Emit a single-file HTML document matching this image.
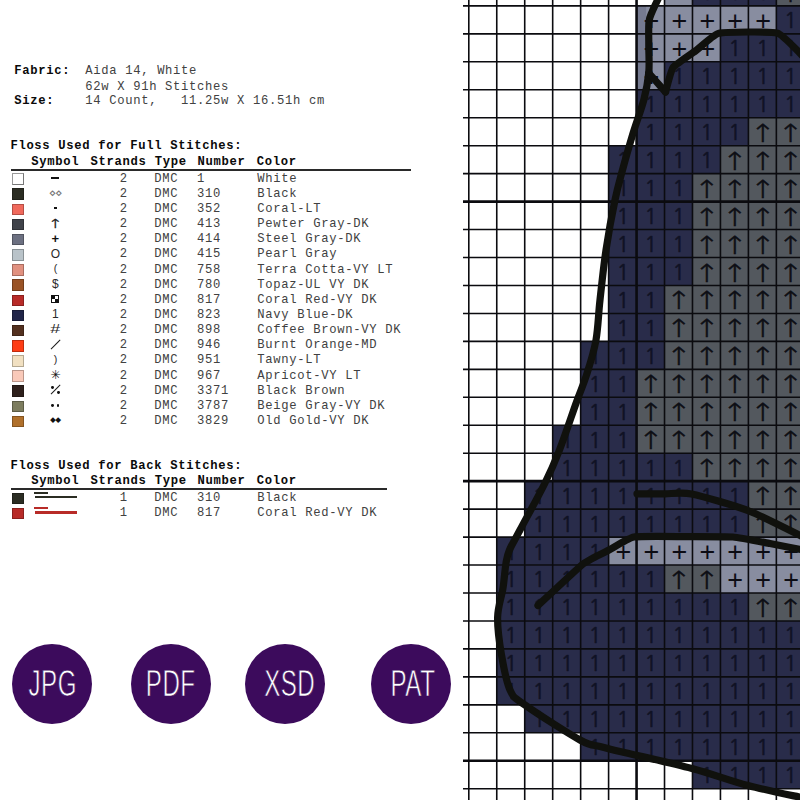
<!DOCTYPE html>
<html lang="en"><head><meta charset="utf-8"><title>Cross stitch pattern key</title><style>
html,body{margin:0;padding:0;background:#fff}
body{width:800px;height:800px;position:relative;overflow:hidden;font-family:"Liberation Mono",monospace}
.chart{position:absolute;left:0;top:0}
.chart text{text-anchor:middle}
.s1{font:21.5px "NanumGothic","Liberation Sans",sans-serif;fill:#101224;stroke:#101224;stroke-width:.55}
.s2{font:200 25px "DejaVu Sans",sans-serif;fill:#0d0e14;stroke:#0d0e14;stroke-width:.5}
.s3{font:27px "Liberation Sans",sans-serif;fill:#0c0c14}
.t{position:absolute;font-size:12.2px;line-height:15px;height:15px;white-space:pre;color:#414141;letter-spacing:.68px}
.t.b{font-weight:bold;color:#0a0a0a}
.rule{position:absolute;height:1.6px;background:#2a2a2a}
.sw{position:absolute;width:11.8px;height:11.6px;box-sizing:border-box;border:0.5px solid rgba(0,0,0,.25)}
.sw.w{border:1px solid #9a9a9a;border-right-color:#777;border-bottom-color:#777}
.sym{position:absolute;left:35.4px;width:40px;height:20px;text-align:center;font:12px/20px "Liberation Sans",sans-serif;color:#2a2a2a}
.sym span{display:inline-block;line-height:20px}
.sym i{position:absolute;display:block}
.bar{left:16.1px;top:9px;width:7.6px;height:2px;background:#111}
.sq{left:18.7px;top:8.8px;width:2.6px;height:2.4px;background:#111}
.ck{left:15.9px;top:6.1px;width:8.2px;height:7.8px;box-sizing:border-box;border:1px solid #111;background:conic-gradient(#fff 0 25%,#111 0 50%,#fff 0 75%,#111 0)}
.dg{left:19.5px;top:3.4px;width:1.1px;height:13.2px;background:#1a1a1a;transform:rotate(45deg)}
.d1,.d2,.d3,.d4{width:2.8px;height:2.8px;border-radius:50%;background:#111}
.d1{left:15.8px;top:6.3px}.d2{left:22px;top:10.9px}
.d3{left:15.8px;top:8.6px}.d4{left:21.3px;top:8.6px}
.inf span{font:12px/20px "DejaVu Sans",sans-serif;color:#777;letter-spacing:-1.2px;margin-right:-1.2px;position:relative;left:-1px}
.arr span{font:200 12.5px/20px "DejaVu Sans",sans-serif;color:#222;transform:scaleX(1.38);position:relative;top:.8px;-webkit-text-stroke:.35px #222}
.lp span,.rp span{font-size:10.6px;position:relative;top:-.9px}
.pls span{font:bold 13px/20px "Liberation Sans",sans-serif;color:#111}
.hash span{transform:scaleX(1.5)}
.ast span{font:12.3px/20px "DejaVu Sans",sans-serif;color:#111}
.dia span{font:7.6px/20px "DejaVu Sans",sans-serif;color:#111;letter-spacing:-.6px;margin-right:-.6px;position:relative;top:-2.2px;left:-.4px}
.bs1{position:absolute;width:14px;height:1.4px}
.bs2{position:absolute;width:42px;height:2.4px}
.badge{position:absolute;width:80px;height:80px;border-radius:50%;background:#3c0b5c;color:#fff;text-align:center}
.badge span{display:inline-block;font:36.5px/80px "Liberation Sans",sans-serif;transform:scaleX(.66);transform-origin:50% 50%;letter-spacing:.8px;position:relative;top:.5px;-webkit-text-stroke:.75px #3c0b5c}
</style></head><body>
<svg class="chart" width="800" height="800" viewBox="0 0 800 800" role="img" aria-label="Cross stitch chart">
<rect x="664.52" y="-22.06" width="27.96" height="27.957" fill="#888da0"/>
<rect x="692.48" y="-22.06" width="27.96" height="27.957" fill="#292c4a"/>
<rect x="720.44" y="-22.06" width="27.96" height="27.957" fill="#292c4a"/>
<rect x="748.40" y="-22.06" width="27.96" height="27.957" fill="#292c4a"/>
<rect x="776.36" y="-22.06" width="27.96" height="27.957" fill="#53585e"/>
<rect x="636.56" y="5.90" width="27.96" height="27.957" fill="#888da0"/>
<rect x="664.52" y="5.90" width="27.96" height="27.957" fill="#888da0"/>
<rect x="692.48" y="5.90" width="27.96" height="27.957" fill="#888da0"/>
<rect x="720.44" y="5.90" width="27.96" height="27.957" fill="#888da0"/>
<rect x="748.40" y="5.90" width="27.96" height="27.957" fill="#888da0"/>
<rect x="776.36" y="5.90" width="27.96" height="27.957" fill="#292c4a"/>
<rect x="636.56" y="33.86" width="27.96" height="27.957" fill="#888da0"/>
<rect x="664.52" y="33.86" width="27.96" height="27.957" fill="#888da0"/>
<rect x="692.48" y="33.86" width="27.96" height="27.957" fill="#888da0"/>
<rect x="720.44" y="33.86" width="27.96" height="27.957" fill="#292c4a"/>
<rect x="748.40" y="33.86" width="27.96" height="27.957" fill="#292c4a"/>
<rect x="776.36" y="33.86" width="27.96" height="27.957" fill="#292c4a"/>
<rect x="636.56" y="61.81" width="27.96" height="27.957" fill="#888da0"/>
<rect x="664.52" y="61.81" width="27.96" height="27.957" fill="#292c4a"/>
<rect x="692.48" y="61.81" width="27.96" height="27.957" fill="#292c4a"/>
<rect x="720.44" y="61.81" width="27.96" height="27.957" fill="#292c4a"/>
<rect x="748.40" y="61.81" width="27.96" height="27.957" fill="#292c4a"/>
<rect x="776.36" y="61.81" width="27.96" height="27.957" fill="#292c4a"/>
<rect x="636.56" y="89.77" width="27.96" height="27.957" fill="#292c4a"/>
<rect x="664.52" y="89.77" width="27.96" height="27.957" fill="#292c4a"/>
<rect x="692.48" y="89.77" width="27.96" height="27.957" fill="#292c4a"/>
<rect x="720.44" y="89.77" width="27.96" height="27.957" fill="#292c4a"/>
<rect x="748.40" y="89.77" width="27.96" height="27.957" fill="#292c4a"/>
<rect x="776.36" y="89.77" width="27.96" height="27.957" fill="#292c4a"/>
<rect x="636.56" y="117.73" width="27.96" height="27.957" fill="#292c4a"/>
<rect x="664.52" y="117.73" width="27.96" height="27.957" fill="#292c4a"/>
<rect x="692.48" y="117.73" width="27.96" height="27.957" fill="#292c4a"/>
<rect x="720.44" y="117.73" width="27.96" height="27.957" fill="#292c4a"/>
<rect x="748.40" y="117.73" width="27.96" height="27.957" fill="#53585e"/>
<rect x="776.36" y="117.73" width="27.96" height="27.957" fill="#53585e"/>
<rect x="608.60" y="145.69" width="27.96" height="27.957" fill="#292c4a"/>
<rect x="636.56" y="145.69" width="27.96" height="27.957" fill="#292c4a"/>
<rect x="664.52" y="145.69" width="27.96" height="27.957" fill="#292c4a"/>
<rect x="692.48" y="145.69" width="27.96" height="27.957" fill="#292c4a"/>
<rect x="720.44" y="145.69" width="27.96" height="27.957" fill="#53585e"/>
<rect x="748.40" y="145.69" width="27.96" height="27.957" fill="#53585e"/>
<rect x="776.36" y="145.69" width="27.96" height="27.957" fill="#53585e"/>
<rect x="608.60" y="173.64" width="27.96" height="27.957" fill="#292c4a"/>
<rect x="636.56" y="173.64" width="27.96" height="27.957" fill="#292c4a"/>
<rect x="664.52" y="173.64" width="27.96" height="27.957" fill="#292c4a"/>
<rect x="692.48" y="173.64" width="27.96" height="27.957" fill="#53585e"/>
<rect x="720.44" y="173.64" width="27.96" height="27.957" fill="#53585e"/>
<rect x="748.40" y="173.64" width="27.96" height="27.957" fill="#53585e"/>
<rect x="776.36" y="173.64" width="27.96" height="27.957" fill="#53585e"/>
<rect x="608.60" y="201.60" width="27.96" height="27.957" fill="#292c4a"/>
<rect x="636.56" y="201.60" width="27.96" height="27.957" fill="#292c4a"/>
<rect x="664.52" y="201.60" width="27.96" height="27.957" fill="#292c4a"/>
<rect x="692.48" y="201.60" width="27.96" height="27.957" fill="#53585e"/>
<rect x="720.44" y="201.60" width="27.96" height="27.957" fill="#53585e"/>
<rect x="748.40" y="201.60" width="27.96" height="27.957" fill="#53585e"/>
<rect x="776.36" y="201.60" width="27.96" height="27.957" fill="#53585e"/>
<rect x="608.60" y="229.56" width="27.96" height="27.957" fill="#292c4a"/>
<rect x="636.56" y="229.56" width="27.96" height="27.957" fill="#292c4a"/>
<rect x="664.52" y="229.56" width="27.96" height="27.957" fill="#292c4a"/>
<rect x="692.48" y="229.56" width="27.96" height="27.957" fill="#53585e"/>
<rect x="720.44" y="229.56" width="27.96" height="27.957" fill="#53585e"/>
<rect x="748.40" y="229.56" width="27.96" height="27.957" fill="#53585e"/>
<rect x="776.36" y="229.56" width="27.96" height="27.957" fill="#53585e"/>
<rect x="608.60" y="257.51" width="27.96" height="27.957" fill="#292c4a"/>
<rect x="636.56" y="257.51" width="27.96" height="27.957" fill="#292c4a"/>
<rect x="664.52" y="257.51" width="27.96" height="27.957" fill="#292c4a"/>
<rect x="692.48" y="257.51" width="27.96" height="27.957" fill="#53585e"/>
<rect x="720.44" y="257.51" width="27.96" height="27.957" fill="#53585e"/>
<rect x="748.40" y="257.51" width="27.96" height="27.957" fill="#53585e"/>
<rect x="776.36" y="257.51" width="27.96" height="27.957" fill="#53585e"/>
<rect x="608.60" y="285.47" width="27.96" height="27.957" fill="#292c4a"/>
<rect x="636.56" y="285.47" width="27.96" height="27.957" fill="#292c4a"/>
<rect x="664.52" y="285.47" width="27.96" height="27.957" fill="#53585e"/>
<rect x="692.48" y="285.47" width="27.96" height="27.957" fill="#53585e"/>
<rect x="720.44" y="285.47" width="27.96" height="27.957" fill="#53585e"/>
<rect x="748.40" y="285.47" width="27.96" height="27.957" fill="#53585e"/>
<rect x="776.36" y="285.47" width="27.96" height="27.957" fill="#53585e"/>
<rect x="608.60" y="313.43" width="27.96" height="27.957" fill="#292c4a"/>
<rect x="636.56" y="313.43" width="27.96" height="27.957" fill="#292c4a"/>
<rect x="664.52" y="313.43" width="27.96" height="27.957" fill="#53585e"/>
<rect x="692.48" y="313.43" width="27.96" height="27.957" fill="#53585e"/>
<rect x="720.44" y="313.43" width="27.96" height="27.957" fill="#53585e"/>
<rect x="748.40" y="313.43" width="27.96" height="27.957" fill="#53585e"/>
<rect x="776.36" y="313.43" width="27.96" height="27.957" fill="#53585e"/>
<rect x="580.64" y="341.38" width="27.96" height="27.957" fill="#292c4a"/>
<rect x="608.60" y="341.38" width="27.96" height="27.957" fill="#292c4a"/>
<rect x="636.56" y="341.38" width="27.96" height="27.957" fill="#292c4a"/>
<rect x="664.52" y="341.38" width="27.96" height="27.957" fill="#53585e"/>
<rect x="692.48" y="341.38" width="27.96" height="27.957" fill="#53585e"/>
<rect x="720.44" y="341.38" width="27.96" height="27.957" fill="#53585e"/>
<rect x="748.40" y="341.38" width="27.96" height="27.957" fill="#53585e"/>
<rect x="776.36" y="341.38" width="27.96" height="27.957" fill="#53585e"/>
<rect x="580.64" y="369.34" width="27.96" height="27.957" fill="#292c4a"/>
<rect x="608.60" y="369.34" width="27.96" height="27.957" fill="#292c4a"/>
<rect x="636.56" y="369.34" width="27.96" height="27.957" fill="#53585e"/>
<rect x="664.52" y="369.34" width="27.96" height="27.957" fill="#53585e"/>
<rect x="692.48" y="369.34" width="27.96" height="27.957" fill="#53585e"/>
<rect x="720.44" y="369.34" width="27.96" height="27.957" fill="#53585e"/>
<rect x="748.40" y="369.34" width="27.96" height="27.957" fill="#53585e"/>
<rect x="776.36" y="369.34" width="27.96" height="27.957" fill="#53585e"/>
<rect x="580.64" y="397.30" width="27.96" height="27.957" fill="#292c4a"/>
<rect x="608.60" y="397.30" width="27.96" height="27.957" fill="#292c4a"/>
<rect x="636.56" y="397.30" width="27.96" height="27.957" fill="#53585e"/>
<rect x="664.52" y="397.30" width="27.96" height="27.957" fill="#53585e"/>
<rect x="692.48" y="397.30" width="27.96" height="27.957" fill="#53585e"/>
<rect x="720.44" y="397.30" width="27.96" height="27.957" fill="#53585e"/>
<rect x="748.40" y="397.30" width="27.96" height="27.957" fill="#53585e"/>
<rect x="776.36" y="397.30" width="27.96" height="27.957" fill="#53585e"/>
<rect x="552.68" y="425.25" width="27.96" height="27.957" fill="#292c4a"/>
<rect x="580.64" y="425.25" width="27.96" height="27.957" fill="#292c4a"/>
<rect x="608.60" y="425.25" width="27.96" height="27.957" fill="#292c4a"/>
<rect x="636.56" y="425.25" width="27.96" height="27.957" fill="#53585e"/>
<rect x="664.52" y="425.25" width="27.96" height="27.957" fill="#53585e"/>
<rect x="692.48" y="425.25" width="27.96" height="27.957" fill="#53585e"/>
<rect x="720.44" y="425.25" width="27.96" height="27.957" fill="#53585e"/>
<rect x="748.40" y="425.25" width="27.96" height="27.957" fill="#53585e"/>
<rect x="776.36" y="425.25" width="27.96" height="27.957" fill="#53585e"/>
<rect x="552.68" y="453.21" width="27.96" height="27.957" fill="#292c4a"/>
<rect x="580.64" y="453.21" width="27.96" height="27.957" fill="#292c4a"/>
<rect x="608.60" y="453.21" width="27.96" height="27.957" fill="#292c4a"/>
<rect x="636.56" y="453.21" width="27.96" height="27.957" fill="#292c4a"/>
<rect x="664.52" y="453.21" width="27.96" height="27.957" fill="#292c4a"/>
<rect x="692.48" y="453.21" width="27.96" height="27.957" fill="#53585e"/>
<rect x="720.44" y="453.21" width="27.96" height="27.957" fill="#53585e"/>
<rect x="748.40" y="453.21" width="27.96" height="27.957" fill="#53585e"/>
<rect x="776.36" y="453.21" width="27.96" height="27.957" fill="#53585e"/>
<rect x="524.72" y="481.17" width="27.96" height="27.957" fill="#292c4a"/>
<rect x="552.68" y="481.17" width="27.96" height="27.957" fill="#292c4a"/>
<rect x="580.64" y="481.17" width="27.96" height="27.957" fill="#292c4a"/>
<rect x="608.60" y="481.17" width="27.96" height="27.957" fill="#292c4a"/>
<rect x="636.56" y="481.17" width="27.96" height="27.957" fill="#292c4a"/>
<rect x="664.52" y="481.17" width="27.96" height="27.957" fill="#292c4a"/>
<rect x="692.48" y="481.17" width="27.96" height="27.957" fill="#292c4a"/>
<rect x="720.44" y="481.17" width="27.96" height="27.957" fill="#292c4a"/>
<rect x="748.40" y="481.17" width="27.96" height="27.957" fill="#53585e"/>
<rect x="776.36" y="481.17" width="27.96" height="27.957" fill="#53585e"/>
<rect x="524.72" y="509.13" width="27.96" height="27.957" fill="#292c4a"/>
<rect x="552.68" y="509.13" width="27.96" height="27.957" fill="#292c4a"/>
<rect x="580.64" y="509.13" width="27.96" height="27.957" fill="#292c4a"/>
<rect x="608.60" y="509.13" width="27.96" height="27.957" fill="#292c4a"/>
<rect x="636.56" y="509.13" width="27.96" height="27.957" fill="#292c4a"/>
<rect x="664.52" y="509.13" width="27.96" height="27.957" fill="#292c4a"/>
<rect x="692.48" y="509.13" width="27.96" height="27.957" fill="#292c4a"/>
<rect x="720.44" y="509.13" width="27.96" height="27.957" fill="#292c4a"/>
<rect x="748.40" y="509.13" width="27.96" height="27.957" fill="#53585e"/>
<rect x="776.36" y="509.13" width="27.96" height="27.957" fill="#53585e"/>
<rect x="496.76" y="537.08" width="27.96" height="27.957" fill="#292c4a"/>
<rect x="524.72" y="537.08" width="27.96" height="27.957" fill="#292c4a"/>
<rect x="552.68" y="537.08" width="27.96" height="27.957" fill="#292c4a"/>
<rect x="580.64" y="537.08" width="27.96" height="27.957" fill="#292c4a"/>
<rect x="608.60" y="537.08" width="27.96" height="27.957" fill="#888da0"/>
<rect x="636.56" y="537.08" width="27.96" height="27.957" fill="#888da0"/>
<rect x="664.52" y="537.08" width="27.96" height="27.957" fill="#888da0"/>
<rect x="692.48" y="537.08" width="27.96" height="27.957" fill="#888da0"/>
<rect x="720.44" y="537.08" width="27.96" height="27.957" fill="#888da0"/>
<rect x="748.40" y="537.08" width="27.96" height="27.957" fill="#888da0"/>
<rect x="776.36" y="537.08" width="27.96" height="27.957" fill="#888da0"/>
<rect x="496.76" y="565.04" width="27.96" height="27.957" fill="#292c4a"/>
<rect x="524.72" y="565.04" width="27.96" height="27.957" fill="#292c4a"/>
<rect x="552.68" y="565.04" width="27.96" height="27.957" fill="#292c4a"/>
<rect x="580.64" y="565.04" width="27.96" height="27.957" fill="#292c4a"/>
<rect x="608.60" y="565.04" width="27.96" height="27.957" fill="#292c4a"/>
<rect x="636.56" y="565.04" width="27.96" height="27.957" fill="#292c4a"/>
<rect x="664.52" y="565.04" width="27.96" height="27.957" fill="#53585e"/>
<rect x="692.48" y="565.04" width="27.96" height="27.957" fill="#53585e"/>
<rect x="720.44" y="565.04" width="27.96" height="27.957" fill="#888da0"/>
<rect x="748.40" y="565.04" width="27.96" height="27.957" fill="#888da0"/>
<rect x="776.36" y="565.04" width="27.96" height="27.957" fill="#888da0"/>
<rect x="496.76" y="593.00" width="27.96" height="27.957" fill="#292c4a"/>
<rect x="524.72" y="593.00" width="27.96" height="27.957" fill="#292c4a"/>
<rect x="552.68" y="593.00" width="27.96" height="27.957" fill="#292c4a"/>
<rect x="580.64" y="593.00" width="27.96" height="27.957" fill="#292c4a"/>
<rect x="608.60" y="593.00" width="27.96" height="27.957" fill="#292c4a"/>
<rect x="636.56" y="593.00" width="27.96" height="27.957" fill="#292c4a"/>
<rect x="664.52" y="593.00" width="27.96" height="27.957" fill="#292c4a"/>
<rect x="692.48" y="593.00" width="27.96" height="27.957" fill="#292c4a"/>
<rect x="720.44" y="593.00" width="27.96" height="27.957" fill="#292c4a"/>
<rect x="748.40" y="593.00" width="27.96" height="27.957" fill="#53585e"/>
<rect x="776.36" y="593.00" width="27.96" height="27.957" fill="#53585e"/>
<rect x="496.76" y="620.95" width="27.96" height="27.957" fill="#292c4a"/>
<rect x="524.72" y="620.95" width="27.96" height="27.957" fill="#292c4a"/>
<rect x="552.68" y="620.95" width="27.96" height="27.957" fill="#292c4a"/>
<rect x="580.64" y="620.95" width="27.96" height="27.957" fill="#292c4a"/>
<rect x="608.60" y="620.95" width="27.96" height="27.957" fill="#292c4a"/>
<rect x="636.56" y="620.95" width="27.96" height="27.957" fill="#292c4a"/>
<rect x="664.52" y="620.95" width="27.96" height="27.957" fill="#292c4a"/>
<rect x="692.48" y="620.95" width="27.96" height="27.957" fill="#292c4a"/>
<rect x="720.44" y="620.95" width="27.96" height="27.957" fill="#292c4a"/>
<rect x="748.40" y="620.95" width="27.96" height="27.957" fill="#292c4a"/>
<rect x="776.36" y="620.95" width="27.96" height="27.957" fill="#292c4a"/>
<rect x="496.76" y="648.91" width="27.96" height="27.957" fill="#292c4a"/>
<rect x="524.72" y="648.91" width="27.96" height="27.957" fill="#292c4a"/>
<rect x="552.68" y="648.91" width="27.96" height="27.957" fill="#292c4a"/>
<rect x="580.64" y="648.91" width="27.96" height="27.957" fill="#292c4a"/>
<rect x="608.60" y="648.91" width="27.96" height="27.957" fill="#292c4a"/>
<rect x="636.56" y="648.91" width="27.96" height="27.957" fill="#292c4a"/>
<rect x="664.52" y="648.91" width="27.96" height="27.957" fill="#292c4a"/>
<rect x="692.48" y="648.91" width="27.96" height="27.957" fill="#292c4a"/>
<rect x="720.44" y="648.91" width="27.96" height="27.957" fill="#292c4a"/>
<rect x="748.40" y="648.91" width="27.96" height="27.957" fill="#292c4a"/>
<rect x="776.36" y="648.91" width="27.96" height="27.957" fill="#292c4a"/>
<rect x="496.76" y="676.87" width="27.96" height="27.957" fill="#292c4a"/>
<rect x="524.72" y="676.87" width="27.96" height="27.957" fill="#292c4a"/>
<rect x="552.68" y="676.87" width="27.96" height="27.957" fill="#292c4a"/>
<rect x="580.64" y="676.87" width="27.96" height="27.957" fill="#292c4a"/>
<rect x="608.60" y="676.87" width="27.96" height="27.957" fill="#292c4a"/>
<rect x="636.56" y="676.87" width="27.96" height="27.957" fill="#292c4a"/>
<rect x="664.52" y="676.87" width="27.96" height="27.957" fill="#292c4a"/>
<rect x="692.48" y="676.87" width="27.96" height="27.957" fill="#292c4a"/>
<rect x="720.44" y="676.87" width="27.96" height="27.957" fill="#292c4a"/>
<rect x="748.40" y="676.87" width="27.96" height="27.957" fill="#292c4a"/>
<rect x="776.36" y="676.87" width="27.96" height="27.957" fill="#292c4a"/>
<rect x="524.72" y="704.83" width="27.96" height="27.957" fill="#292c4a"/>
<rect x="552.68" y="704.83" width="27.96" height="27.957" fill="#292c4a"/>
<rect x="580.64" y="704.83" width="27.96" height="27.957" fill="#292c4a"/>
<rect x="608.60" y="704.83" width="27.96" height="27.957" fill="#292c4a"/>
<rect x="636.56" y="704.83" width="27.96" height="27.957" fill="#292c4a"/>
<rect x="664.52" y="704.83" width="27.96" height="27.957" fill="#292c4a"/>
<rect x="692.48" y="704.83" width="27.96" height="27.957" fill="#292c4a"/>
<rect x="720.44" y="704.83" width="27.96" height="27.957" fill="#292c4a"/>
<rect x="748.40" y="704.83" width="27.96" height="27.957" fill="#292c4a"/>
<rect x="776.36" y="704.83" width="27.96" height="27.957" fill="#292c4a"/>
<rect x="580.64" y="732.78" width="27.96" height="27.957" fill="#292c4a"/>
<rect x="608.60" y="732.78" width="27.96" height="27.957" fill="#292c4a"/>
<rect x="636.56" y="732.78" width="27.96" height="27.957" fill="#292c4a"/>
<rect x="664.52" y="732.78" width="27.96" height="27.957" fill="#292c4a"/>
<rect x="692.48" y="732.78" width="27.96" height="27.957" fill="#292c4a"/>
<rect x="720.44" y="732.78" width="27.96" height="27.957" fill="#292c4a"/>
<rect x="748.40" y="732.78" width="27.96" height="27.957" fill="#292c4a"/>
<rect x="776.36" y="732.78" width="27.96" height="27.957" fill="#292c4a"/>
<rect x="692.48" y="760.74" width="27.96" height="27.957" fill="#292c4a"/>
<rect x="720.44" y="760.74" width="27.96" height="27.957" fill="#292c4a"/>
<rect x="748.40" y="760.74" width="27.96" height="27.957" fill="#292c4a"/>
<rect x="776.36" y="760.74" width="27.96" height="27.957" fill="#292c4a"/>
<rect x="636.56" y="5.90" width="9.6" height="83.87" fill="#757a90"/>
<g stroke="#0b0b0f"><line x1="468.80" y1="0" x2="468.80" y2="800" stroke-width="1.6"/><line x1="496.76" y1="0" x2="496.76" y2="800" stroke-width="1.6"/><line x1="524.72" y1="0" x2="524.72" y2="800" stroke-width="1.6"/><line x1="552.68" y1="0" x2="552.68" y2="800" stroke-width="1.6"/><line x1="580.64" y1="0" x2="580.64" y2="800" stroke-width="1.6"/><line x1="608.60" y1="0" x2="608.60" y2="800" stroke-width="1.6"/><line x1="636.56" y1="0" x2="636.56" y2="800" stroke-width="2.6"/><line x1="664.52" y1="0" x2="664.52" y2="800" stroke-width="1.6"/><line x1="692.48" y1="0" x2="692.48" y2="800" stroke-width="1.6"/><line x1="720.44" y1="0" x2="720.44" y2="800" stroke-width="1.6"/><line x1="748.40" y1="0" x2="748.40" y2="800" stroke-width="1.6"/><line x1="776.36" y1="0" x2="776.36" y2="800" stroke-width="1.6"/><line x1="463" y1="5.90" x2="800" y2="5.90" stroke-width="1.6"/><line x1="463" y1="33.86" x2="800" y2="33.86" stroke-width="1.6"/><line x1="463" y1="61.81" x2="800" y2="61.81" stroke-width="1.6"/><line x1="463" y1="89.77" x2="800" y2="89.77" stroke-width="1.6"/><line x1="463" y1="117.73" x2="800" y2="117.73" stroke-width="1.6"/><line x1="463" y1="145.69" x2="800" y2="145.69" stroke-width="1.6"/><line x1="463" y1="173.64" x2="800" y2="173.64" stroke-width="1.6"/><line x1="463" y1="201.60" x2="800" y2="201.60" stroke-width="2.6"/><line x1="463" y1="229.56" x2="800" y2="229.56" stroke-width="1.6"/><line x1="463" y1="257.51" x2="800" y2="257.51" stroke-width="1.6"/><line x1="463" y1="285.47" x2="800" y2="285.47" stroke-width="1.6"/><line x1="463" y1="313.43" x2="800" y2="313.43" stroke-width="1.6"/><line x1="463" y1="341.38" x2="800" y2="341.38" stroke-width="1.6"/><line x1="463" y1="369.34" x2="800" y2="369.34" stroke-width="1.6"/><line x1="463" y1="397.30" x2="800" y2="397.30" stroke-width="1.6"/><line x1="463" y1="425.25" x2="800" y2="425.25" stroke-width="1.6"/><line x1="463" y1="453.21" x2="800" y2="453.21" stroke-width="1.6"/><line x1="463" y1="481.17" x2="800" y2="481.17" stroke-width="2.6"/><line x1="463" y1="509.13" x2="800" y2="509.13" stroke-width="1.6"/><line x1="463" y1="537.08" x2="800" y2="537.08" stroke-width="1.6"/><line x1="463" y1="565.04" x2="800" y2="565.04" stroke-width="1.6"/><line x1="463" y1="593.00" x2="800" y2="593.00" stroke-width="1.6"/><line x1="463" y1="620.95" x2="800" y2="620.95" stroke-width="1.6"/><line x1="463" y1="648.91" x2="800" y2="648.91" stroke-width="1.6"/><line x1="463" y1="676.87" x2="800" y2="676.87" stroke-width="1.6"/><line x1="463" y1="704.83" x2="800" y2="704.83" stroke-width="1.6"/><line x1="463" y1="732.78" x2="800" y2="732.78" stroke-width="1.6"/><line x1="463" y1="760.74" x2="800" y2="760.74" stroke-width="2.6"/><line x1="463" y1="788.70" x2="800" y2="788.70" stroke-width="1.6"/></g>
<g class="s1"><text x="706.8" y="0.3">1</text><text x="734.7" y="0.3">1</text><text x="762.7" y="0.3">1</text><text x="790.6" y="28.3">1</text><text x="734.7" y="56.2">1</text><text x="762.7" y="56.2">1</text><text x="790.6" y="56.2">1</text><text x="678.8" y="84.2">1</text><text x="706.8" y="84.2">1</text><text x="734.7" y="84.2">1</text><text x="762.7" y="84.2">1</text><text x="790.6" y="84.2">1</text><text x="650.8" y="112.1">1</text><text x="678.8" y="112.1">1</text><text x="706.8" y="112.1">1</text><text x="734.7" y="112.1">1</text><text x="762.7" y="112.1">1</text><text x="790.6" y="112.1">1</text><text x="650.8" y="140.1">1</text><text x="678.8" y="140.1">1</text><text x="706.8" y="140.1">1</text><text x="734.7" y="140.1">1</text><text x="622.9" y="168.1">1</text><text x="650.8" y="168.1">1</text><text x="678.8" y="168.1">1</text><text x="706.8" y="168.1">1</text><text x="622.9" y="196.0">1</text><text x="650.8" y="196.0">1</text><text x="678.8" y="196.0">1</text><text x="622.9" y="224.0">1</text><text x="650.8" y="224.0">1</text><text x="678.8" y="224.0">1</text><text x="622.9" y="251.9">1</text><text x="650.8" y="251.9">1</text><text x="678.8" y="251.9">1</text><text x="622.9" y="279.9">1</text><text x="650.8" y="279.9">1</text><text x="678.8" y="279.9">1</text><text x="622.9" y="307.8">1</text><text x="650.8" y="307.8">1</text><text x="622.9" y="335.8">1</text><text x="650.8" y="335.8">1</text><text x="594.9" y="363.8">1</text><text x="622.9" y="363.8">1</text><text x="650.8" y="363.8">1</text><text x="594.9" y="391.7">1</text><text x="622.9" y="391.7">1</text><text x="594.9" y="419.7">1</text><text x="622.9" y="419.7">1</text><text x="567.0" y="447.6">1</text><text x="594.9" y="447.6">1</text><text x="622.9" y="447.6">1</text><text x="567.0" y="475.6">1</text><text x="594.9" y="475.6">1</text><text x="622.9" y="475.6">1</text><text x="650.8" y="475.6">1</text><text x="678.8" y="475.6">1</text><text x="539.0" y="503.5">1</text><text x="567.0" y="503.5">1</text><text x="594.9" y="503.5">1</text><text x="622.9" y="503.5">1</text><text x="650.8" y="503.5">1</text><text x="678.8" y="503.5">1</text><text x="706.8" y="503.5">1</text><text x="734.7" y="503.5">1</text><text x="539.0" y="531.5">1</text><text x="567.0" y="531.5">1</text><text x="594.9" y="531.5">1</text><text x="622.9" y="531.5">1</text><text x="650.8" y="531.5">1</text><text x="678.8" y="531.5">1</text><text x="706.8" y="531.5">1</text><text x="734.7" y="531.5">1</text><text x="511.0" y="559.5">1</text><text x="539.0" y="559.5">1</text><text x="567.0" y="559.5">1</text><text x="594.9" y="559.5">1</text><text x="511.0" y="587.4">1</text><text x="539.0" y="587.4">1</text><text x="567.0" y="587.4">1</text><text x="594.9" y="587.4">1</text><text x="622.9" y="587.4">1</text><text x="650.8" y="587.4">1</text><text x="511.0" y="615.4">1</text><text x="539.0" y="615.4">1</text><text x="567.0" y="615.4">1</text><text x="594.9" y="615.4">1</text><text x="622.9" y="615.4">1</text><text x="650.8" y="615.4">1</text><text x="678.8" y="615.4">1</text><text x="706.8" y="615.4">1</text><text x="734.7" y="615.4">1</text><text x="511.0" y="643.3">1</text><text x="539.0" y="643.3">1</text><text x="567.0" y="643.3">1</text><text x="594.9" y="643.3">1</text><text x="622.9" y="643.3">1</text><text x="650.8" y="643.3">1</text><text x="678.8" y="643.3">1</text><text x="706.8" y="643.3">1</text><text x="734.7" y="643.3">1</text><text x="762.7" y="643.3">1</text><text x="790.6" y="643.3">1</text><text x="511.0" y="671.3">1</text><text x="539.0" y="671.3">1</text><text x="567.0" y="671.3">1</text><text x="594.9" y="671.3">1</text><text x="622.9" y="671.3">1</text><text x="650.8" y="671.3">1</text><text x="678.8" y="671.3">1</text><text x="706.8" y="671.3">1</text><text x="734.7" y="671.3">1</text><text x="762.7" y="671.3">1</text><text x="790.6" y="671.3">1</text><text x="511.0" y="699.2">1</text><text x="539.0" y="699.2">1</text><text x="567.0" y="699.2">1</text><text x="594.9" y="699.2">1</text><text x="622.9" y="699.2">1</text><text x="650.8" y="699.2">1</text><text x="678.8" y="699.2">1</text><text x="706.8" y="699.2">1</text><text x="734.7" y="699.2">1</text><text x="762.7" y="699.2">1</text><text x="790.6" y="699.2">1</text><text x="539.0" y="727.2">1</text><text x="567.0" y="727.2">1</text><text x="594.9" y="727.2">1</text><text x="622.9" y="727.2">1</text><text x="650.8" y="727.2">1</text><text x="678.8" y="727.2">1</text><text x="706.8" y="727.2">1</text><text x="734.7" y="727.2">1</text><text x="762.7" y="727.2">1</text><text x="790.6" y="727.2">1</text><text x="594.9" y="755.2">1</text><text x="622.9" y="755.2">1</text><text x="650.8" y="755.2">1</text><text x="678.8" y="755.2">1</text><text x="706.8" y="755.2">1</text><text x="734.7" y="755.2">1</text><text x="762.7" y="755.2">1</text><text x="790.6" y="755.2">1</text><text x="706.8" y="783.1">1</text><text x="734.7" y="783.1">1</text><text x="762.7" y="783.1">1</text><text x="790.6" y="783.1">1</text></g>
<g class="s2"><text transform="translate(790.6 1.9) scale(1.2 1)">↑</text><text transform="translate(762.7 141.7) scale(1.2 1)">↑</text><text transform="translate(790.6 141.7) scale(1.2 1)">↑</text><text transform="translate(734.7 169.7) scale(1.2 1)">↑</text><text transform="translate(762.7 169.7) scale(1.2 1)">↑</text><text transform="translate(790.6 169.7) scale(1.2 1)">↑</text><text transform="translate(706.8 197.6) scale(1.2 1)">↑</text><text transform="translate(734.7 197.6) scale(1.2 1)">↑</text><text transform="translate(762.7 197.6) scale(1.2 1)">↑</text><text transform="translate(790.6 197.6) scale(1.2 1)">↑</text><text transform="translate(706.8 225.6) scale(1.2 1)">↑</text><text transform="translate(734.7 225.6) scale(1.2 1)">↑</text><text transform="translate(762.7 225.6) scale(1.2 1)">↑</text><text transform="translate(790.6 225.6) scale(1.2 1)">↑</text><text transform="translate(706.8 253.5) scale(1.2 1)">↑</text><text transform="translate(734.7 253.5) scale(1.2 1)">↑</text><text transform="translate(762.7 253.5) scale(1.2 1)">↑</text><text transform="translate(790.6 253.5) scale(1.2 1)">↑</text><text transform="translate(706.8 281.5) scale(1.2 1)">↑</text><text transform="translate(734.7 281.5) scale(1.2 1)">↑</text><text transform="translate(762.7 281.5) scale(1.2 1)">↑</text><text transform="translate(790.6 281.5) scale(1.2 1)">↑</text><text transform="translate(678.8 309.4) scale(1.2 1)">↑</text><text transform="translate(706.8 309.4) scale(1.2 1)">↑</text><text transform="translate(734.7 309.4) scale(1.2 1)">↑</text><text transform="translate(762.7 309.4) scale(1.2 1)">↑</text><text transform="translate(790.6 309.4) scale(1.2 1)">↑</text><text transform="translate(678.8 337.4) scale(1.2 1)">↑</text><text transform="translate(706.8 337.4) scale(1.2 1)">↑</text><text transform="translate(734.7 337.4) scale(1.2 1)">↑</text><text transform="translate(762.7 337.4) scale(1.2 1)">↑</text><text transform="translate(790.6 337.4) scale(1.2 1)">↑</text><text transform="translate(678.8 365.4) scale(1.2 1)">↑</text><text transform="translate(706.8 365.4) scale(1.2 1)">↑</text><text transform="translate(734.7 365.4) scale(1.2 1)">↑</text><text transform="translate(762.7 365.4) scale(1.2 1)">↑</text><text transform="translate(790.6 365.4) scale(1.2 1)">↑</text><text transform="translate(650.8 393.3) scale(1.2 1)">↑</text><text transform="translate(678.8 393.3) scale(1.2 1)">↑</text><text transform="translate(706.8 393.3) scale(1.2 1)">↑</text><text transform="translate(734.7 393.3) scale(1.2 1)">↑</text><text transform="translate(762.7 393.3) scale(1.2 1)">↑</text><text transform="translate(790.6 393.3) scale(1.2 1)">↑</text><text transform="translate(650.8 421.3) scale(1.2 1)">↑</text><text transform="translate(678.8 421.3) scale(1.2 1)">↑</text><text transform="translate(706.8 421.3) scale(1.2 1)">↑</text><text transform="translate(734.7 421.3) scale(1.2 1)">↑</text><text transform="translate(762.7 421.3) scale(1.2 1)">↑</text><text transform="translate(790.6 421.3) scale(1.2 1)">↑</text><text transform="translate(650.8 449.2) scale(1.2 1)">↑</text><text transform="translate(678.8 449.2) scale(1.2 1)">↑</text><text transform="translate(706.8 449.2) scale(1.2 1)">↑</text><text transform="translate(734.7 449.2) scale(1.2 1)">↑</text><text transform="translate(762.7 449.2) scale(1.2 1)">↑</text><text transform="translate(790.6 449.2) scale(1.2 1)">↑</text><text transform="translate(706.8 477.2) scale(1.2 1)">↑</text><text transform="translate(734.7 477.2) scale(1.2 1)">↑</text><text transform="translate(762.7 477.2) scale(1.2 1)">↑</text><text transform="translate(790.6 477.2) scale(1.2 1)">↑</text><text transform="translate(762.7 505.1) scale(1.2 1)">↑</text><text transform="translate(790.6 505.1) scale(1.2 1)">↑</text><text transform="translate(762.7 533.1) scale(1.2 1)">↑</text><text transform="translate(790.6 533.1) scale(1.2 1)">↑</text><text transform="translate(678.8 589.0) scale(1.2 1)">↑</text><text transform="translate(706.8 589.0) scale(1.2 1)">↑</text><text transform="translate(762.7 617.0) scale(1.2 1)">↑</text><text transform="translate(790.6 617.0) scale(1.2 1)">↑</text></g>
<g class="s3"><text x="679.3" y="1.6">+</text><text x="651.3" y="29.6">+</text><text x="679.3" y="29.6">+</text><text x="707.3" y="29.6">+</text><text x="735.2" y="29.6">+</text><text x="763.2" y="29.6">+</text><text x="651.3" y="57.5">+</text><text x="679.3" y="57.5">+</text><text x="707.3" y="57.5">+</text><text x="651.3" y="85.5">+</text><text x="623.4" y="560.8">+</text><text x="651.3" y="560.8">+</text><text x="679.3" y="560.8">+</text><text x="707.3" y="560.8">+</text><text x="735.2" y="560.8">+</text><text x="763.2" y="560.8">+</text><text x="791.1" y="560.8">+</text><text x="735.2" y="588.7">+</text><text x="763.2" y="588.7">+</text><text x="791.1" y="588.7">+</text></g>
<g fill="none" stroke="#10110d" stroke-width="7.2" stroke-linecap="round" stroke-linejoin="round"><path d="M660.5,-6.0 C659.2,-3.2 654.4,6.3 652.5,11.0 C650.6,15.7 649.6,16.3 649.0,22.0 C648.4,27.7 648.8,36.6 648.8,45.0 C648.7,53.4 649.6,63.3 648.8,72.5 C647.9,81.7 646.5,89.6 643.8,100.0 C641.0,110.4 636.0,123.3 632.5,135.0 C629.0,146.7 625.4,159.2 622.5,170.0 C619.6,180.8 617.8,186.7 615.0,200.0 C612.2,213.3 608.5,233.3 606.0,250.0 C603.5,266.7 601.7,285.0 600.0,300.0 C598.3,315.0 598.2,327.5 596.0,340.0 C593.8,352.5 589.8,364.7 586.5,375.0 C583.2,385.3 581.0,389.5 576.5,402.0 C572.0,414.5 564.8,436.3 559.5,450.0 C554.2,463.7 551.1,470.7 544.5,484.0 C537.9,497.3 525.8,519.0 520.0,530.0 C514.2,541.0 511.8,544.5 509.5,550.0 C507.2,555.5 507.1,556.7 506.0,563.0 C504.9,569.3 504.4,578.9 503.0,588.0 C501.6,597.1 497.9,606.3 497.6,617.5 C497.4,628.7 499.4,642.9 501.5,655.0 C503.6,667.1 506.1,681.7 510.0,690.0 C513.9,698.3 513.3,696.7 525.0,705.0 C536.7,713.3 567.5,733.1 580.0,740.0 C592.5,746.9 593.3,744.6 600.0,746.5 C606.7,748.4 604.7,747.8 620.0,751.5 C635.3,755.2 670.7,762.8 692.0,768.5 C713.3,774.2 729.0,780.5 748.0,785.5 C767.0,790.5 796.3,796.3 806.0,798.5"/><path d="M648.8,73.0 C651.5,76.2 662.7,88.8 665.5,92.0"/><path d="M665.5,92.0 C666.0,90.4 671.0,70.3 673.0,67.5 C675.0,64.7 692.9,52.8 696.0,50.5 C699.1,48.2 713.6,34.4 719.0,33.2 C724.4,32.0 771.7,31.3 777.5,33.1 C783.3,34.9 804.1,57.7 806.0,59.5"/><path d="M538.0,605.5 C541.4,602.4 577.7,568.2 583.0,564.0 C588.3,559.8 605.2,552.0 609.0,550.0 C612.8,548.0 628.3,538.0 634.0,537.0 C639.7,536.0 677.6,536.6 685.0,536.6 C692.4,536.6 726.6,536.5 733.0,537.0 C739.4,537.5 764.5,542.5 770.0,543.5 C775.5,544.5 803.3,550.0 806.0,550.5"/><path d="M637.0,493.8 C640.3,493.8 658.6,493.8 665.0,493.8 C671.4,493.8 681.8,492.0 691.6,494.0 C701.4,496.0 735.7,505.8 749.0,511.0 C762.3,516.2 799.4,535.3 806.0,538.5"/></g>
</svg>
<div class="t b" style="left:14.3px;top:64.30px">Fabric:</div>
<div class="t " style="left:85.2px;top:64.30px">Aida 14, White</div>
<div class="t " style="left:85.2px;top:79.50px">62w X 91h Stitches</div>
<div class="t b" style="left:14.3px;top:94.40px">Size:</div>
<div class="t " style="left:85.2px;top:94.40px">14 Count,&nbsp;&nbsp; 11.25w X 16.51h cm</div>
<div class="t b" style="left:10.4px;top:139.40px">Floss Used for Full Stitches:</div>
<div class="t b" style="left:31.2px;top:154.50px">Symbol</div>
<div class="t b" style="left:90.6px;top:154.50px">Strands</div>
<div class="t b" style="left:154.8px;top:154.50px">Type</div>
<div class="t b" style="left:197.6px;top:154.50px">Number</div>
<div class="t b" style="left:256.8px;top:154.50px">Color</div>
<div class="rule" style="left:10.5px;top:169.2px;width:400.5px"></div>
<div class="sw w" style="left:12.2px;top:173.30px;background:#ffffff"></div>
<div class="sym dash" style="top:167.90px"><i class="bar"></i></div>
<div class="t " style="left:119.8px;top:171.60px">2</div>
<div class="t " style="left:154.2px;top:171.60px">DMC</div>
<div class="t " style="left:197.0px;top:171.60px">1</div>
<div class="t " style="left:257.3px;top:171.60px">White</div>
<div class="sw" style="left:12.2px;top:188.45px;background:#2b2d23"></div>
<div class="sym inf" style="top:183.05px"><span>⋄⋄</span></div>
<div class="t " style="left:119.8px;top:186.75px">2</div>
<div class="t " style="left:154.2px;top:186.75px">DMC</div>
<div class="t " style="left:197.0px;top:186.75px">310</div>
<div class="t " style="left:257.3px;top:186.75px">Black</div>
<div class="sw" style="left:12.2px;top:203.60px;background:#f0695c"></div>
<div class="sym dot" style="top:198.20px"><i class="sq"></i></div>
<div class="t " style="left:119.8px;top:201.90px">2</div>
<div class="t " style="left:154.2px;top:201.90px">DMC</div>
<div class="t " style="left:197.0px;top:201.90px">352</div>
<div class="t " style="left:257.3px;top:201.90px">Coral-LT</div>
<div class="sw" style="left:12.2px;top:218.75px;background:#40434a"></div>
<div class="sym arr" style="top:213.35px"><span>↑</span></div>
<div class="t " style="left:119.8px;top:217.05px">2</div>
<div class="t " style="left:154.2px;top:217.05px">DMC</div>
<div class="t " style="left:197.0px;top:217.05px">413</div>
<div class="t " style="left:257.3px;top:217.05px">Pewter Gray-DK</div>
<div class="sw" style="left:12.2px;top:233.90px;background:#6c7081"></div>
<div class="sym pls" style="top:228.50px"><span>+</span></div>
<div class="t " style="left:119.8px;top:232.20px">2</div>
<div class="t " style="left:154.2px;top:232.20px">DMC</div>
<div class="t " style="left:197.0px;top:232.20px">414</div>
<div class="t " style="left:257.3px;top:232.20px">Steel Gray-DK</div>
<div class="sw" style="left:12.2px;top:249.05px;background:#b9c3c9"></div>
<div class="sym oh" style="top:243.65px"><span>O</span></div>
<div class="t " style="left:119.8px;top:247.35px">2</div>
<div class="t " style="left:154.2px;top:247.35px">DMC</div>
<div class="t " style="left:197.0px;top:247.35px">415</div>
<div class="t " style="left:257.3px;top:247.35px">Pearl Gray</div>
<div class="sw" style="left:12.2px;top:264.20px;background:#e19180"></div>
<div class="sym lp" style="top:258.80px"><span>(</span></div>
<div class="t " style="left:119.8px;top:262.50px">2</div>
<div class="t " style="left:154.2px;top:262.50px">DMC</div>
<div class="t " style="left:197.0px;top:262.50px">758</div>
<div class="t " style="left:257.3px;top:262.50px">Terra Cotta-VY LT</div>
<div class="sw" style="left:12.2px;top:279.35px;background:#9a5326"></div>
<div class="sym dol" style="top:273.95px"><span>$</span></div>
<div class="t " style="left:119.8px;top:277.65px">2</div>
<div class="t " style="left:154.2px;top:277.65px">DMC</div>
<div class="t " style="left:197.0px;top:277.65px">780</div>
<div class="t " style="left:257.3px;top:277.65px">Topaz-UL VY DK</div>
<div class="sw" style="left:12.2px;top:294.50px;background:#b82b28"></div>
<div class="sym chk" style="top:289.10px"><i class="ck"></i></div>
<div class="t " style="left:119.8px;top:292.80px">2</div>
<div class="t " style="left:154.2px;top:292.80px">DMC</div>
<div class="t " style="left:197.0px;top:292.80px">817</div>
<div class="t " style="left:257.3px;top:292.80px">Coral Red-VY DK</div>
<div class="sw" style="left:12.2px;top:309.65px;background:#212549"></div>
<div class="sym one" style="top:304.25px"><span>1</span></div>
<div class="t " style="left:119.8px;top:307.95px">2</div>
<div class="t " style="left:154.2px;top:307.95px">DMC</div>
<div class="t " style="left:197.0px;top:307.95px">823</div>
<div class="t " style="left:257.3px;top:307.95px">Navy Blue-DK</div>
<div class="sw" style="left:12.2px;top:324.80px;background:#53301f"></div>
<div class="sym hash" style="top:319.40px"><span>#</span></div>
<div class="t " style="left:119.8px;top:323.10px">2</div>
<div class="t " style="left:154.2px;top:323.10px">DMC</div>
<div class="t " style="left:197.0px;top:323.10px">898</div>
<div class="t " style="left:257.3px;top:323.10px">Coffee Brown-VY DK</div>
<div class="sw" style="left:12.2px;top:339.95px;background:#fe3d15"></div>
<div class="sym sl" style="top:334.55px"><i class="dg"></i></div>
<div class="t " style="left:119.8px;top:338.25px">2</div>
<div class="t " style="left:154.2px;top:338.25px">DMC</div>
<div class="t " style="left:197.0px;top:338.25px">946</div>
<div class="t " style="left:257.3px;top:338.25px">Burnt Orange-MD</div>
<div class="sw" style="left:12.2px;top:355.10px;background:#f1e0c1"></div>
<div class="sym rp" style="top:349.70px"><span>)</span></div>
<div class="t " style="left:119.8px;top:353.40px">2</div>
<div class="t " style="left:154.2px;top:353.40px">DMC</div>
<div class="t " style="left:197.0px;top:353.40px">951</div>
<div class="t " style="left:257.3px;top:353.40px">Tawny-LT</div>
<div class="sw" style="left:12.2px;top:370.25px;background:#f9c9b9"></div>
<div class="sym ast" style="top:364.85px"><span>✳</span></div>
<div class="t " style="left:119.8px;top:368.55px">2</div>
<div class="t " style="left:154.2px;top:368.55px">DMC</div>
<div class="t " style="left:197.0px;top:368.55px">967</div>
<div class="t " style="left:257.3px;top:368.55px">Apricot-VY LT</div>
<div class="sw" style="left:12.2px;top:385.40px;background:#2e201c"></div>
<div class="sym pct" style="top:380.00px"><i class="dg"></i><i class="d1"></i><i class="d2"></i></div>
<div class="t " style="left:119.8px;top:383.70px">2</div>
<div class="t " style="left:154.2px;top:383.70px">DMC</div>
<div class="t " style="left:197.0px;top:383.70px">3371</div>
<div class="t " style="left:257.3px;top:383.70px">Black Brown</div>
<div class="sw" style="left:12.2px;top:400.55px;background:#7d7d5f"></div>
<div class="sym dd" style="top:395.15px"><i class="d3"></i><i class="d4"></i></div>
<div class="t " style="left:119.8px;top:398.85px">2</div>
<div class="t " style="left:154.2px;top:398.85px">DMC</div>
<div class="t " style="left:197.0px;top:398.85px">3787</div>
<div class="t " style="left:257.3px;top:398.85px">Beige Gray-VY DK</div>
<div class="sw" style="left:12.2px;top:415.70px;background:#b0702b"></div>
<div class="sym dia" style="top:410.30px"><span>◆◆</span></div>
<div class="t " style="left:119.8px;top:414.00px">2</div>
<div class="t " style="left:154.2px;top:414.00px">DMC</div>
<div class="t " style="left:197.0px;top:414.00px">3829</div>
<div class="t " style="left:257.3px;top:414.00px">Old Gold-VY DK</div>
<div class="t b" style="left:10.4px;top:458.70px">Floss Used for Back Stitches:</div>
<div class="t b" style="left:31.2px;top:473.80px">Symbol</div>
<div class="t b" style="left:90.6px;top:473.80px">Strands</div>
<div class="t b" style="left:154.8px;top:473.80px">Type</div>
<div class="t b" style="left:197.6px;top:473.80px">Number</div>
<div class="t b" style="left:256.8px;top:473.80px">Color</div>
<div class="rule" style="left:10.5px;top:488.4px;width:376.5px"></div>
<div class="sw" style="left:12.2px;top:492.60px;background:#2b2d23"></div>
<div class="bs1" style="left:34px;top:492.20px;background:#2b2d23"></div>
<div class="bs2" style="left:35px;top:496.00px;background:#2b2d23"></div>
<div class="t " style="left:119.8px;top:490.90px">1</div>
<div class="t " style="left:154.2px;top:490.90px">DMC</div>
<div class="t " style="left:197.0px;top:490.90px">310</div>
<div class="t " style="left:257.3px;top:490.90px">Black</div>
<div class="sw" style="left:12.2px;top:507.75px;background:#b82b28"></div>
<div class="bs1" style="left:34px;top:507.35px;background:#b82b28"></div>
<div class="bs2" style="left:35px;top:511.15px;background:#b82b28"></div>
<div class="t " style="left:119.8px;top:506.05px">1</div>
<div class="t " style="left:154.2px;top:506.05px">DMC</div>
<div class="t " style="left:197.0px;top:506.05px">817</div>
<div class="t " style="left:257.3px;top:506.05px">Coral Red-VY DK</div>
<div class="badge" style="left:11.5px;top:643.5px"><span style="left:1px">JPG</span></div>
<div class="badge" style="left:131.0px;top:643.5px"><span style="left:-0.8px">PDF</span></div>
<div class="badge" style="left:245.3px;top:643.5px"><span style="left:4px">XSD</span></div>
<div class="badge" style="left:370.8px;top:643.5px"><span style="left:2px">PAT</span></div>
</body></html>
